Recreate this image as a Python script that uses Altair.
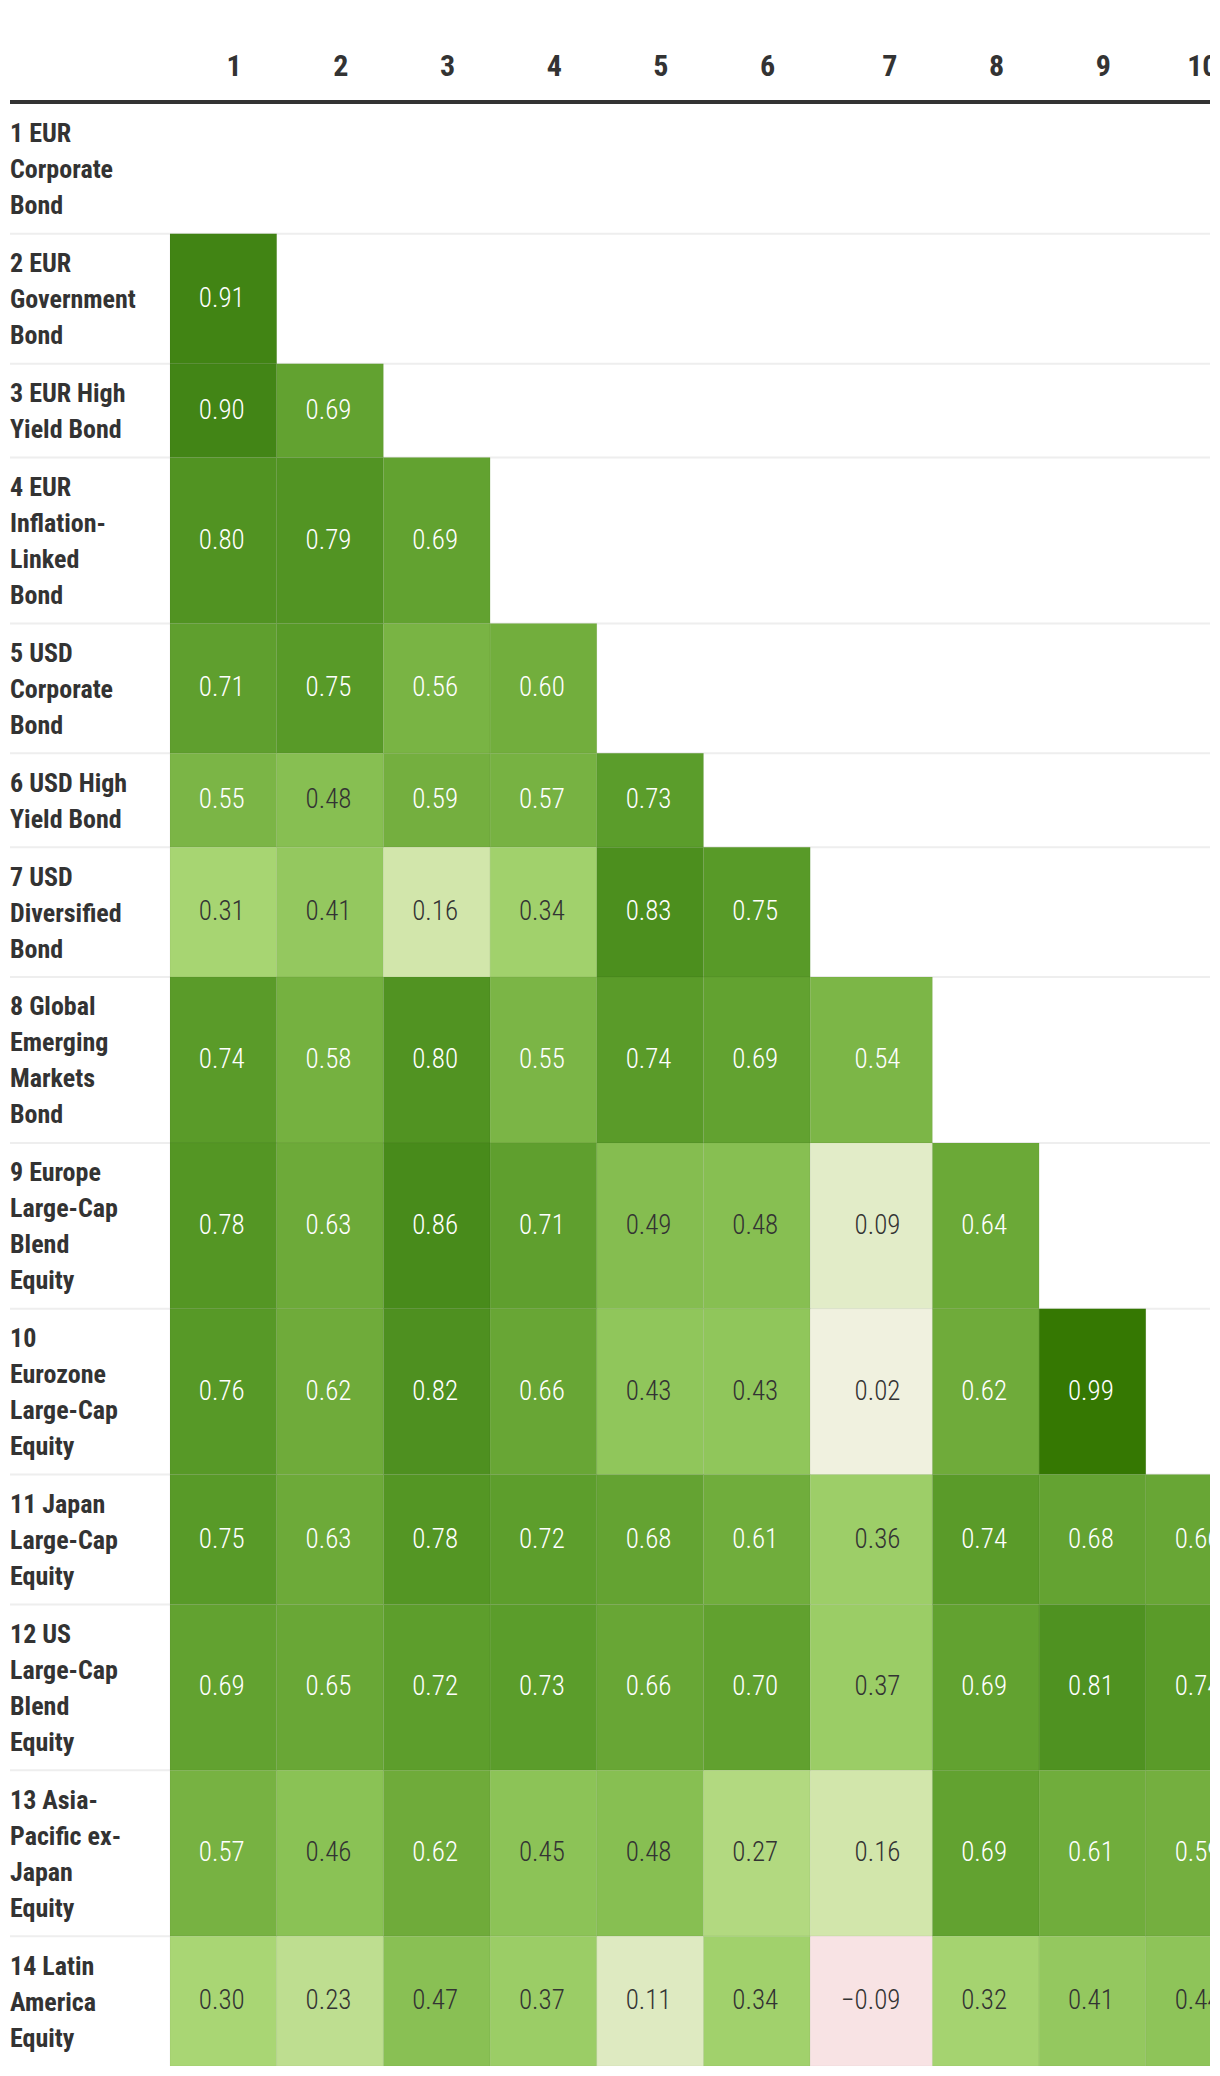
import altair as alt
import pandas as pd

# ---------------- data ----------------
ROW_LABELS = [
    ["1 EUR", "Corporate", "Bond"],
    ["2 EUR", "Government", "Bond"],
    ["3 EUR High", "Yield Bond"],
    ["4 EUR", "Inflation-", "Linked", "Bond"],
    ["5 USD", "Corporate", "Bond"],
    ["6 USD High", "Yield Bond"],
    ["7 USD", "Diversified", "Bond"],
    ["8 Global", "Emerging", "Markets", "Bond"],
    ["9 Europe", "Large-Cap", "Blend", "Equity"],
    ["10", "Eurozone", "Large-Cap", "Equity"],
    ["11 Japan", "Large-Cap", "Equity"],
    ["12 US", "Large-Cap", "Blend", "Equity"],
    ["13 Asia-", "Pacific ex-", "Japan", "Equity"],
    ["14 Latin", "America", "Equity"],
]
COL_LABELS = ["1", "2", "3", "4", "5", "6", "7", "8", "9", "10"]

R1 = []
R2 = [0.91]
R3 = [0.90, 0.69]
R4 = [0.80, 0.79, 0.69]
R5 = [0.71, 0.75, 0.56, 0.60]
R6 = [0.55, 0.48, 0.59, 0.57, 0.73]
R7 = [0.31, 0.41, 0.16, 0.34, 0.83, 0.75]
R8 = [0.74, 0.58, 0.80, 0.55, 0.74, 0.69, 0.54]
R9 = [0.78, 0.63, 0.86, 0.71, 0.49, 0.48, 0.09, 0.64]
R10 = [0.76, 0.62, 0.82, 0.66, 0.43, 0.43, 0.02, 0.62, 0.99]
R11 = [0.75, 0.63, 0.78, 0.72, 0.68, 0.61, 0.36, 0.74, 0.68, 0.66]
R12 = [0.69, 0.65, 0.72, 0.73, 0.66, 0.70, 0.37, 0.69, 0.81, 0.74]
R13 = [0.57, 0.46, 0.62, 0.45, 0.48, 0.27, 0.16, 0.69, 0.61, 0.59]
R14 = [0.30, 0.23, 0.47, 0.37, 0.11, 0.34, -0.09, 0.32, 0.41, 0.44]
CORR = [R1, R2, R3, R4, R5, R6, R7, R8, R9, R10, R11, R12, R13, R14]

# ---------------- layout (table-like) ----------------
W, H = 1200, 2058
LABEL_W = 160
COL_W = 106.7
MINUS_EXTRA = 15.5
HEADER_LINE_Y = 94
ROWS_TOP = 96
LINE_H = 36
ROW_PAD = 21.86
VALUE_PAD = 32
HEADER_PAD = 35

ncols = len(COL_LABELS)
has_neg = [any(len(r) > c and r[c] < 0 for r in CORR) for c in range(ncols)]
col_left, col_right = [], []
x = LABEL_W
for c in range(ncols):
    w = COL_W + (MINUS_EXTRA if has_neg[c] else 0)
    col_left.append(x)
    col_right.append(x + w)
    x += w

row_top, row_bot = [], []
y = ROWS_TOP
for lines in ROW_LABELS:
    h = LINE_H * len(lines) + ROW_PAD
    row_top.append(y)
    row_bot.append(y + h)
    y += h

cells = []
for r, vals in enumerate(CORR):
    for c, v in enumerate(vals):
        cells.append({
            "row": r + 1, "col": c + 1, "v": v,
            "x0": col_left[c], "x1": col_right[c],
            "y0": row_top[r], "y1": row_bot[r],
            "xt": col_right[c] - VALUE_PAD,
            "yc": (row_top[r] + row_bot[r]) / 2,
            "txt": f"{v:.2f}".replace("-", "\u2212"),
        })
cell_df = pd.DataFrame(cells)

label_df = pd.DataFrame({
    "label": ["\n".join(l) for l in ROW_LABELS],
    "ytop": [t + ROW_PAD / 2 for t in row_top],
})
head_df = pd.DataFrame({
    "h": COL_LABELS,
    "xt": [r - HEADER_PAD for r in col_right],
    "y": [68] * ncols,
})
sep_df = pd.DataFrame({"y": row_bot[:-1]})
hline_df = pd.DataFrame({"y": [HEADER_LINE_Y]})

COND = "Roboto Condensed, Liberation Sans Narrow, DejaVu Sans Condensed, Roboto, sans-serif"

x_scale = alt.Scale(domain=[0, W], nice=False, zero=False)
y_scale = alt.Scale(domain=[0, H], nice=False, zero=False, reverse=True)

color_scale = alt.Scale(
    domain=[-0.1, 0.0, 0.1, 0.16, 0.3, 0.45, 0.6, 0.75, 0.9, 1.0],
    range=["#f8e1e4", "#f4f3e5", "#e0ebc5", "#d2e6ab", "#a9d674",
           "#8cc357", "#72ae3d", "#589a28", "#428516", "#337700"],
    interpolate="rgb",
)

seps = alt.Chart(sep_df).mark_rule(color="#eeeeee", strokeWidth=2).encode(
    x=alt.X(datum=0, scale=x_scale, axis=None),
    x2=alt.X2(datum=W),
    y=alt.Y("y:Q", scale=y_scale, axis=None),
)
hline = alt.Chart(hline_df).mark_rule(color="#333333", strokeWidth=4).encode(
    x=alt.X(datum=0, scale=x_scale, axis=None),
    x2=alt.X2(datum=W),
    y=alt.Y("y:Q", scale=y_scale, axis=None),
)
rects = alt.Chart(cell_df).mark_rect(
    clip=True, stroke="#000000", strokeOpacity=0.04, strokeWidth=1
).encode(
    x=alt.X("x0:Q", scale=x_scale, axis=None),
    x2="x1:Q",
    y=alt.Y("y0:Q", scale=y_scale, axis=None),
    y2="y1:Q",
    color=alt.Color("v:Q", scale=color_scale, legend=None),
)
values = alt.Chart(cell_df).mark_text(
    clip=True, align="right", baseline="middle", font=COND, fontSize=27, fontWeight=300
).encode(
    x=alt.X("xt:Q", scale=x_scale, axis=None),
    y=alt.Y("yc:Q", scale=y_scale, axis=None),
    text="txt:N",
    color=alt.when(alt.datum.v >= 0.5).then(alt.value("#ffffff")).otherwise(alt.value("#333333")),
)
labels = alt.Chart(label_df).mark_text(
    align="left", baseline="line-top", lineBreak="\n", lineHeight=LINE_H,
    font=COND, fontSize=26, fontWeight="bold", color="#333333", dy=1.5,
).encode(
    x=alt.X(datum=0, scale=x_scale, axis=None),
    y=alt.Y("ytop:Q", scale=y_scale, axis=None),
    text="label:N",
)
headers = alt.Chart(head_df).mark_text(
    clip=True, align="right", baseline="alphabetic",
    font=COND, fontSize=30, fontWeight="bold", color="#333333",
).encode(
    x=alt.X("xt:Q", scale=x_scale, axis=None),
    y=alt.Y("y:Q", scale=y_scale, axis=None),
    text="h:N",
)

chart = alt.layer(seps, hline, rects, values, labels, headers).properties(
    width=W, height=H,
    padding={"left": 2, "top": 0, "right": 0, "bottom": 0},
    autosize=alt.AutoSizeParams(type="none"),
    background="#ffffff",
).configure_view(stroke=None)

chart.save("out.html", embed_options={"renderer": "svg", "actions": False})
